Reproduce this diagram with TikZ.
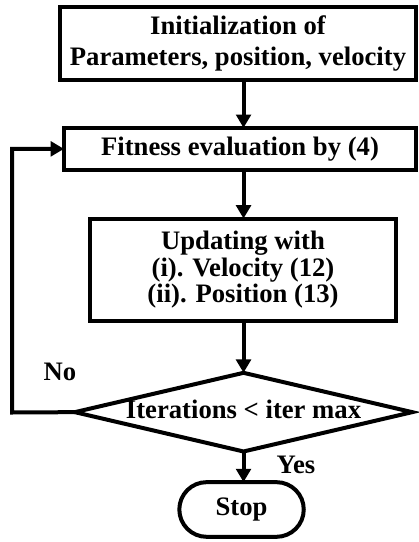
\documentclass[tikz,border=0pt]{standalone}
\usepackage{fontspec}
\setmainfont{Liberation Serif}
\usetikzlibrary{arrows.meta,positioning,shapes.geometric,shapes.misc}

\begin{document}
\begin{tikzpicture}[
    x=0.75pt, y=-0.75pt,
    font=\bfseries\fontsize{20}{23}\selectfont,
    box/.style={
      rectangle, draw=black, line width=3pt,
      align=center, inner sep=1pt, outer sep=0pt,
    },
    decbox/.style={
      diamond, draw=black, line width=3pt, aspect=4.2,
      align=center, inner sep=0pt, outer sep=0pt,
      text height=12pt, text depth=2pt,
      minimum width=253pt, minimum height=59pt,
    },
    stopbox/.style={
      rounded rectangle, draw=black, line width=3pt,
      align=center, outer sep=0pt,
      minimum width=100pt, minimum height=41pt,
    },
    arr/.style={-{Triangle[length=10pt,width=11pt]}, line width=3pt},
  ]
  \useasboundingbox (0,0) rectangle (418,542);

  % Process boxes
  \node[box, minimum width=267pt, minimum height=55pt] (init) at (238,43.75)
    {Initialization of\\Parameters, position, velocity};
  \node[box, minimum width=264pt, minimum height=31.5pt,
        below=35.6pt of init, xshift=1.5pt] (fit) {Fitness evaluation by (4)};
  \node[box, minimum width=229.5pt, minimum height=76.7pt,
        below=36.5pt of fit, xshift=2.25pt, font=\bfseries\fontsize{20}{20}\selectfont] (upd)
    {Updating with\\(i). Velocity (12)\\(ii). Position (13)};

  % Decision and end
  \node[decbox, below=39pt of upd, xshift=0.4pt] (dec) {Iterations < iter max};
  \node[stopbox, below=23pt of dec, xshift=-1.5pt] (stop) {Stop};

  % Loop corner
  \coordinate (back) at (12,412.5);

  % Labels
  \node (no) at (60,372) {No};
  \node (yes) at (296,465) {Yes};

  % Edges
  \draw[arr] (init.south -| dec.north) -- (fit.north -| dec.north);
  \draw[arr] (fit.south -| dec.north) -- (upd.north -| dec.north);
  \draw[arr] (upd.south -| dec.north) -- (dec.north);
  \draw[arr] (dec.south) -- (stop.north -| dec.south);
  \draw[arr] (dec.west) -- (back) |- (fit.west);

\end{tikzpicture}
\end{document}
